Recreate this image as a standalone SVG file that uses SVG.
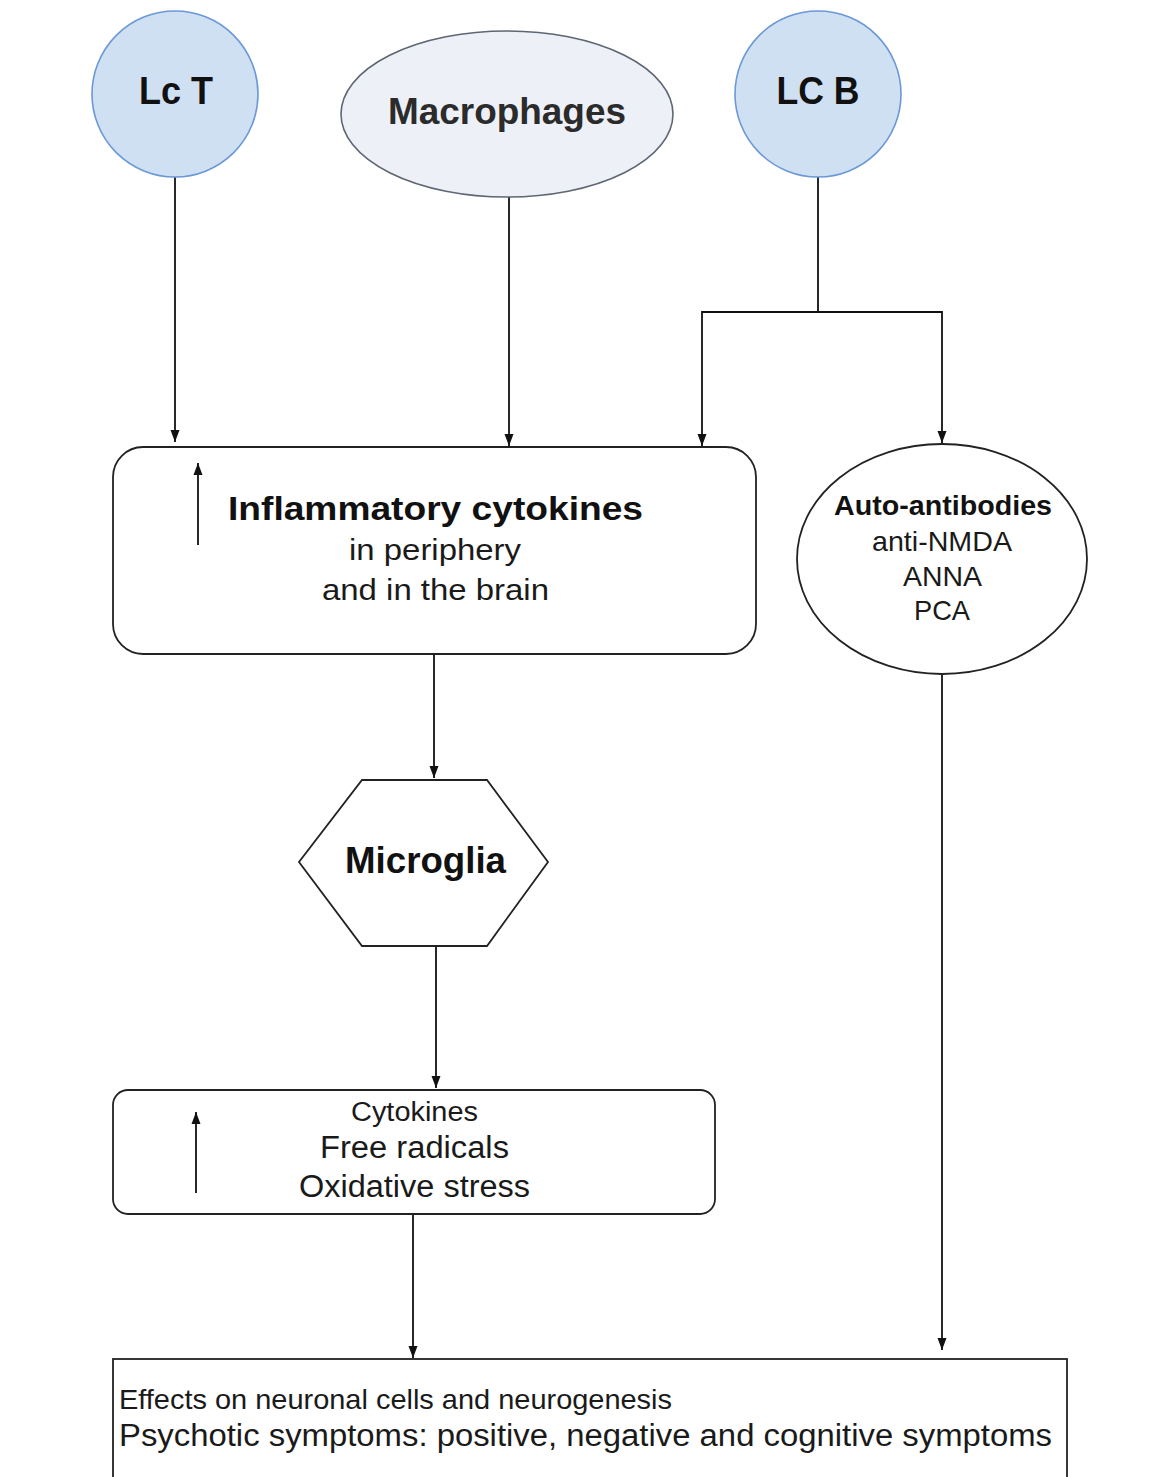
<svg xmlns="http://www.w3.org/2000/svg" width="1164" height="1477" viewBox="0 0 1164 1477">
<defs>
<marker id="arr" viewBox="0 0 12 10" refX="12" refY="5" markerWidth="12" markerHeight="10" markerUnits="userSpaceOnUse" orient="auto">
<path d="M0,0.5 L12,5 L0,9.5 Z" fill="#111"/>
</marker>
</defs>
<style>
.cell{fill:#cfe0f3;stroke:#6b98d6;stroke-width:1.6}
.mac{fill:#eef0f8;stroke:#5d6672;stroke-width:1.6}
.box{fill:#fff;stroke:#222;stroke-width:1.8}
.edge{fill:none;stroke:#111;stroke-width:1.8}
.b{font-family:"Liberation Sans",Arial,sans-serif;font-weight:bold;fill:#111;text-anchor:middle}
.r{font-family:"Liberation Sans",Arial,sans-serif;fill:#1a1a1a;text-anchor:middle}
.l{font-family:"Liberation Sans",Arial,sans-serif;fill:#1a1a1a}
</style>
<rect width="1164" height="1477" fill="#fff"/>

<g id="connectors">
<line class="edge" x1="175" y1="177" x2="175" y2="442" marker-end="url(#arr)"/>
<line class="edge" x1="509" y1="197" x2="509" y2="446" marker-end="url(#arr)"/>
<polyline class="edge" points="818,177 818,312 702,312 702,446" marker-end="url(#arr)"/>
<polyline class="edge" points="818,312 942,312 942,443" marker-end="url(#arr)"/>
<line class="edge" x1="434" y1="654" x2="434" y2="778" marker-end="url(#arr)"/>
<line class="edge" x1="436" y1="946" x2="436" y2="1088" marker-end="url(#arr)"/>
<line class="edge" x1="413" y1="1214" x2="413" y2="1358" marker-end="url(#arr)"/>
<line class="edge" x1="942" y1="674" x2="942" y2="1350" marker-end="url(#arr)"/>
</g>

<g id="lct">
<circle class="cell" cx="175" cy="94" r="83"/>
<text class="b" x="176" y="104" font-size="38" textLength="74" lengthAdjust="spacingAndGlyphs">Lc T</text>
</g>

<g id="macrophages">
<ellipse class="mac" cx="507" cy="114" rx="166" ry="83"/>
<text class="b" x="507" y="124" font-size="36" style="fill:#2b2b2b" textLength="238" lengthAdjust="spacingAndGlyphs">Macrophages</text>
</g>

<g id="lcb">
<circle class="cell" cx="818" cy="94" r="83"/>
<text class="b" x="818" y="104" font-size="38" textLength="83" lengthAdjust="spacingAndGlyphs">LC B</text>
</g>

<g id="inflammatory">
<rect class="box" x="113" y="447" width="643" height="207" rx="30" ry="30"/>
<line class="edge" x1="198" y1="545" x2="198" y2="463" marker-end="url(#arr)"/>
<text class="b" x="435.5" y="520" font-size="34" textLength="415" lengthAdjust="spacingAndGlyphs">Inflammatory cytokines</text>
<text class="r" x="435" y="560" font-size="29" textLength="172" lengthAdjust="spacingAndGlyphs">in periphery</text>
<text class="r" x="435.5" y="600" font-size="29" textLength="227" lengthAdjust="spacingAndGlyphs">and in the brain</text>
</g>

<g id="autoantibodies">
<ellipse class="box" cx="942" cy="559" rx="145" ry="115"/>
<text class="b" x="943" y="515" font-size="27" textLength="218" lengthAdjust="spacingAndGlyphs">Auto-antibodies</text>
<text class="r" x="942" y="551" font-size="28" textLength="140" lengthAdjust="spacingAndGlyphs">anti-NMDA</text>
<text class="r" x="942.5" y="586" font-size="28" textLength="79" lengthAdjust="spacingAndGlyphs">ANNA</text>
<text class="r" x="942" y="620" font-size="28" textLength="56" lengthAdjust="spacingAndGlyphs">PCA</text>
</g>

<g id="microglia">
<polygon class="box" points="362,780 487,780 548,862 487,946 362,946 299,862"/>
<text class="b" x="425.5" y="873" font-size="36" textLength="161" lengthAdjust="spacingAndGlyphs">Microglia</text>
</g>

<g id="stress">
<rect class="box" x="113" y="1090" width="602" height="124" rx="15" ry="15"/>
<line class="edge" x1="196" y1="1193" x2="196" y2="1112" marker-end="url(#arr)"/>
<text class="r" x="414.5" y="1121" font-size="27" textLength="127" lengthAdjust="spacingAndGlyphs">Cytokines</text>
<text class="r" x="414.5" y="1158" font-size="31" textLength="189" lengthAdjust="spacingAndGlyphs">Free radicals</text>
<text class="r" x="414.5" y="1197" font-size="31" textLength="231" lengthAdjust="spacingAndGlyphs">Oxidative stress</text>
</g>

<g id="effects">
<rect class="box" x="113" y="1359" width="954" height="130"/>
<text class="l" x="119" y="1409" font-size="28" textLength="553" lengthAdjust="spacingAndGlyphs">Effects on neuronal cells and neurogenesis</text>
<text class="l" x="119" y="1446" font-size="31" textLength="933" lengthAdjust="spacingAndGlyphs">Psychotic symptoms: positive, negative and cognitive symptoms</text>
</g>
</svg>
